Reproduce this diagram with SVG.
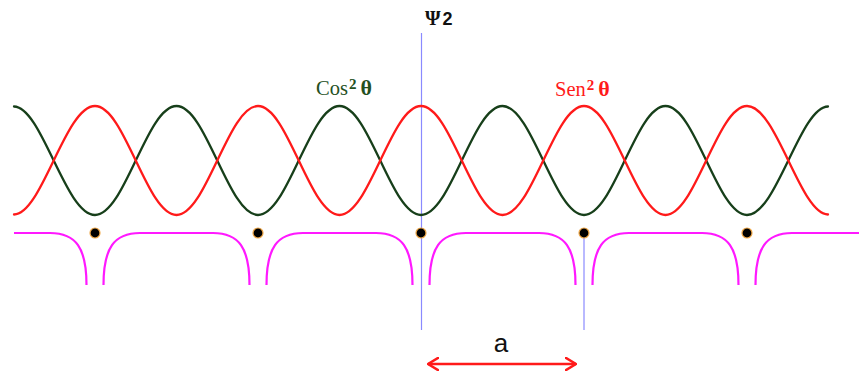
<svg xmlns="http://www.w3.org/2000/svg" width="859" height="376" viewBox="0 0 859 376">
<style>
.curve{fill:none;stroke-width:2.3;stroke-linecap:round}
.green{stroke:#173f1a}
.red{stroke:#ff1a1a}
.well{fill:none;stroke:#ff19ff;stroke-width:2.2}
.guide{stroke:#8a8aff;stroke-width:1.2}
.atom{fill:#000;stroke:#f0a848;stroke-width:1.2}
.lbl{font-family:"Liberation Serif",serif;font-size:20.5px}
.sup{font-weight:bold;font-size:15px}
.th{font-weight:bold;font-size:22px}
</style>
<defs>
<marker id="ah" viewBox="0 0 12 14" refX="11" refY="7" markerWidth="12" markerHeight="14" markerUnits="userSpaceOnUse" orient="auto-start-reverse">
<path d="M1,1 L11,7 L1,13" fill="none" stroke="#ff1a1a" stroke-width="2.6" stroke-linecap="round" stroke-linejoin="round"/>
</marker>
</defs>
<rect width="859" height="376" fill="#fff"/>
<g id="potential">
<path class="well" d="M14,233 H50 C76,233 86.5,248 86.5,285"/>
<path class="well" d="M103.5,285 C103.5,248 114,233 140,233 H213 C239,233 249.5,248 249.5,285"/>
<path class="well" d="M266.5,285 C266.5,248 277,233 303,233 H376 C402,233 412.5,248 412.5,285"/>
<path class="well" d="M429.5,285 C429.5,248 440,233 466,233 H539 C565,233 575.5,248 575.5,285"/>
<path class="well" d="M592.5,285 C592.5,248 603,233 629,233 H702 C728,233 738.5,248 738.5,285"/>
<path class="well" d="M755.5,285 C755.5,248 766,233 792,233 H859"/>
</g>
<g id="guides">
<line class="guide" x1="421.5" y1="33" x2="421.5" y2="330"/>
<line class="guide" x1="584" y1="233" x2="584" y2="330"/>
</g>
<g id="cos2">
<path class="curve green" d="M14,106.5 C42,107 65.32,215 95,215 S146.82,106 176.5,106 S228.32,215 258,215 S309.82,106 339.5,106 S391.32,215 421,215 S472.82,106 502.5,106 S554.32,215 584,215 S635.82,106 665.5,106 S717.32,215 747,215 S800,107 828,106.5"/>
</g>
<g id="sin2">
<path class="curve red" d="M14,214.5 C42,214 65.32,106 95,106 S146.82,215 176.5,215 S228.32,106 258,106 S309.82,215 339.5,215 S391.32,106 421,106 S472.82,215 502.5,215 S554.32,106 584,106 S635.82,215 665.5,215 S717.32,106 747,106 S800,214 828,214.5"/>
</g>
<g id="atoms">
<circle class="atom" cx="95" cy="233" r="5"/>
<circle class="atom" cx="258" cy="233" r="5"/>
<circle class="atom" cx="421" cy="233" r="5"/>
<circle class="atom" cx="584" cy="233" r="5"/>
<circle class="atom" cx="747" cy="233" r="5"/>
</g>
<g id="connectors">
<line x1="428" y1="364" x2="576" y2="364" stroke="#ff1a1a" stroke-width="2.6" marker-start="url(#ah)" marker-end="url(#ah)"/>
</g>
<g id="labels">
<text x="425" y="25" font-family="Liberation Serif, serif" font-weight="bold" font-size="20" fill="#111">Ψ<tspan dx="2" font-family="Liberation Sans, sans-serif" font-size="18">2</tspan></text>
<text class="lbl" x="316" y="95" fill="#24501e">Cos<tspan class="sup" dy="-6" dx="1">2</tspan><tspan class="th" dy="6" dx="4">θ</tspan></text>
<text class="lbl" x="555" y="96" fill="#ff1a1a">Sen<tspan class="sup" dy="-6" dx="1">2</tspan><tspan class="th" dy="6" dx="4">θ</tspan></text>
<text x="501" y="352" text-anchor="middle" font-family="Liberation Sans, sans-serif" font-size="26" fill="#111">a</text>
</g>
</svg>
